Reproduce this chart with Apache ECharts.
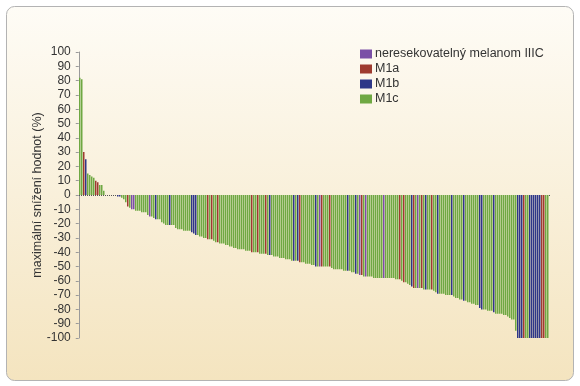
<!DOCTYPE html>
<html>
<head>
<meta charset="utf-8">
<script src="https://cdn.jsdelivr.net/npm/echarts@6/dist/echarts.min.js"></script>
<style>
html,body{margin:0;padding:0;background:#ffffff;}
#c{width:580px;height:386px;}
</style>
</head>
<body>
<div id="c"></div>
<script>
// Maximum reduction per patient (%), sorted (waterfall)
const values = [
  82,81,30,25,15,14,13,12,10,9,
  7,7,3,0,0,0,0,0,0,-1,
  -1,-2,-3,-5,-8,-9,-10,-10,-11,-11,
  -11,-12,-12,-12,-14,-15,-15,-16,-17,-17,
  -17,-19,-20,-21,-21,-21,-21,-21,-23,-24,
  -24,-24,-25,-25,-25,-25,-26,-27,-28,-28,
  -29,-29,-30,-30,-31,-31,-31,-32,-33,-33,
  -34,-34,-34,-35,-35,-36,-36,-37,-37,-38,
  -38,-38,-38,-39,-39,-39,-40,-40,-40,-40,
  -41,-41,-41,-41,-42,-42,-42,-43,-43,-43,
  -44,-44,-44,-45,-45,-45,-46,-46,-46,-46,
  -47,-47,-47,-48,-48,-48,-49,-49,-50,-50,
  -50,-50,-50,-50,-50,-50,-51,-52,-52,-52,
  -52,-52,-53,-53,-53,-53,-54,-54,-55,-55,
  -56,-56,-57,-57,-57,-57,-57,-58,-58,-58,
  -58,-58,-58,-58,-58,-58,-58,-58,-59,-59,
  -59,-60,-61,-61,-62,-63,-64,-65,-65,-65,
  -65,-65,-66,-66,-66,-66,-66,-67,-68,-69,
  -69,-69,-69,-70,-70,-70,-70,-71,-72,-72,
  -73,-73,-74,-74,-75,-75,-76,-76,-77,-77,
  -79,-80,-80,-80,-81,-81,-81,-82,-83,-83,
  -83,-83,-84,-84,-85,-86,-87,-87,-95,-100,
  -100,-100,-100,-100,-100,-100,-100,-100,-100,-100,
  -100,-100,-100,-100,-100
];
// Stage group of each patient: P = IIIC, R = M1a, B = M1b, G = M1c
const groups = [
  'G','G','R','B','G','G','G','G','R','R',
  'G','G','G','G','G','G','G','G','G','B',
  'B','G','G','G','R','G','P','P','G','G',
  'G','G','G','G','G','P','G','G','B','G',
  'G','G','G','G','G','B','G','G','G','G',
  'G','G','G','G','G','G','B','B','B','G',
  'G','G','G','G','R','G','R','G','G','R',
  'G','G','G','G','G','G','G','G','G','G',
  'G','G','G','G','G','G','R','G','G','R',
  'G','G','G','R','G','B','G','G','G','G',
  'G','G','G','G','G','G','G','B','G','B',
  'R','G','G','G','G','G','G','G','B','G',
  'P','R','G','G','G','R','G','G','G','G',
  'G','G','G','G','B','G','G','G','B','G',
  'P','R','G','P','G','G','G','G','G','G',
  'G','G','P','G','G','G','G','G','G','G',
  'R','G','R','G','G','G','B','R','G','P',
  'G','R','G','B','G','G','R','G','G','B',
  'G','G','G','G','G','G','B','G','G','G',
  'G','G','B','G','G','G','G','G','G','G',
  'B','B','G','G','G','G','G','B','G','G',
  'G','G','G','G','G','G','G','G','G','B',
  'B','B','R','G','G','B','B','B','B','B',
  'B','R','R','G','G'
];
const groupCodes = ['P','R','B','G'];
const groupNames = ['neresekovatelný melanom IIIC','M1a','M1b','M1c'];
const groupColors = ['#7a4fa6','#9e3b30','#2e3788','#6fa843'];
const yTicks = {min:-100, max:100, step:10};
const categories = values.map((_, i) => String(i + 1));

const chart = echarts.init(document.getElementById('c'), null, {renderer:'canvas'});
const FONT = 'Liberation Sans';

const series = groupCodes.map((g, k) => ({
  name: groupNames[k],
  type: 'bar',
  stack: 'all',
  barWidth: 1.5,
  itemStyle: {color: groupColors[k]},
  data: values.map((v, i) => groups[i] === g ? v : '-'),
  animation: false
}));

chart.setOption({
  animation: false,
  graphic: [{
    type: 'rect',
    z: -100,
    shape: {x: 6.5, y: 6.5, width: 567, height: 374, r: 8},
    style: {
      fill: new echarts.graphic.LinearGradient(0, 0, 0, 1, [
        {offset: 0, color: '#fefcf6'},
        {offset: 1, color: '#f4e4bf'}
      ]),
      stroke: '#b3b3b3',
      lineWidth: 1
    }
  }],
  legend: {
    orient: 'vertical',
    left: 355,
    top: 42,
    itemWidth: 12,
    itemHeight: 9,
    itemGap: 1,
    icon: 'rect',
    textStyle: {fontFamily: FONT, fontSize: 12.5, color: '#333', lineHeight: 14, padding: [0,0,0,-2]},
    data: groupNames
  },
  grid: {left: 78.75, right: 31.25, top: 52, bottom: 48, containLabel: false},
  xAxis: {
    type: 'category',
    data: categories,
    axisLine: {show: false},
    axisTick: {show: true, interval: 0, length: 1, lineStyle: {color: '#555', width: 1}},
    axisLabel: {show: false},
    splitLine: {show: false}
  },
  yAxis: {
    type: 'value',
    min: yTicks.min,
    max: yTicks.max,
    interval: yTicks.step,
    name: 'maximální snížení hodnot (%)',
    nameLocation: 'middle',
    nameGap: 35,
    nameMoveOverlap: false,
    nameTextStyle: {fontFamily: FONT, fontSize: 12.5, color: '#333'},
    axisLine: {show: true, lineStyle: {color: '#9a9a9a', width: 1}},
    axisTick: {show: true, length: 3, lineStyle: {color: '#9a9a9a'}},
    axisLabel: {fontFamily: FONT, fontSize: 12, color: '#333', margin: 8},
    splitLine: {show: false}
  },
  series: series
});
</script>
</body>
</html>
